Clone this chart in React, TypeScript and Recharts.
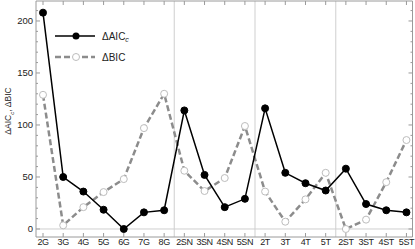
import { LineChart, Line, XAxis, YAxis, ReferenceLine } from "recharts";

const categories = [
  "2G", "3G", "4G", "5G", "6G", "7G", "8G",
  "2SN", "3SN", "4SN", "5SN",
  "2T", "3T", "4T", "5T",
  "2ST", "3ST", "4ST", "5ST",
];
const groupSizes = [7, 4, 4, 4];
const aicc = [208, 50, 36, 18.5, 0, 16, 18, 114, 52, 21, 29, 116, 54, 44, 37, 58, 24, 18, 16];
const bic = [129, 3.5, 21, 35.5, 48, 97, 130, 56, 36.5, 49, 99, 36, 7, 28.5, 54, 0, 9, 45, 85.5];
const yTicks = [0, 10, 20, 30, 40, 50, 60, 70, 80, 90, 100, 110, 120, 130, 140, 150, 160, 170, 180, 190, 200, 210];

const data = categories.map((c, i) => ({ idx: i, name: c, aicc: aicc[i], bic: bic[i] }));

// dividers sit halfway between the last point of a group and the first of the next
const breaks: number[] = [];
groupSizes.slice(0, -1).reduce((acc, n) => {
  breaks.push(acc + n - 0.5);
  return acc + n;
}, 0);

const FRAME = "#9a9a9a";
const FONT = "Liberation Sans, Arial, sans-serif";

function LeftTick({ x, y, payload }: any) {
  const major = payload.value % 50 === 0;
  return (
    <g>
      <line x1={x + 3} x2={x + 3 + (major ? 4 : 2)} y1={y} y2={y} stroke={FRAME} />
      {major && (
        <text x={x} y={y} textAnchor="end" dominantBaseline="central" fontSize={9.5} fill="#222" fontFamily={FONT}>
          {payload.value}
        </text>
      )}
    </g>
  );
}

function RightTick({ x, y, payload }: any) {
  const major = payload.value % 50 === 0;
  return <line x1={x} x2={x - (major ? 4 : 2)} y1={y} y2={y} stroke={FRAME} />;
}

function BottomTick({ x, y, payload }: any) {
  return (
    <g>
      <line x1={x} x2={x} y1={y - 1} y2={y - 5} stroke={FRAME} />
      <text
        x={x}
        y={y + 4}
        textAnchor="middle"
        dominantBaseline="central"
        fontSize={9}
        letterSpacing={-0.4}
        fill="#222"
        fontFamily={FONT}
      >
        {categories[payload.value]}
      </text>
    </g>
  );
}

function TopTick({ x, y }: any) {
  return <line x1={x} x2={x} y1={y} y2={y + 4} stroke={FRAME} />;
}

export default function App() {
  return (
    <div style={{ position: "relative", width: 415, height: 249, background: "#fff" }}>
      <style>{"body{margin:0}"}</style>
      <LineChart width={415} height={249} data={data} margin={{ top: 0, right: 0, bottom: 0, left: 0 }}>
        <XAxis
          xAxisId="bottom"
          dataKey="idx"
          type="number"
          domain={[-0.347, 18.3]}
          allowDataOverflow
          ticks={categories.map((_, i) => i)}
          interval={0}
          height={12}
          tickSize={0}
          tickMargin={1}
          tickLine={false}
          axisLine={{ stroke: FRAME }}
          tick={<BottomTick />}
        />
        <XAxis
          xAxisId="top"
          orientation="top"
          dataKey="idx"
          type="number"
          domain={[-0.347, 18.3]}
          allowDataOverflow
          ticks={categories.map((_, i) => i)}
          interval={0}
          height={1}
          tickSize={0}
          tickMargin={0}
          tickLine={false}
          axisLine={{ stroke: FRAME }}
          tick={<TopTick />}
        />
        <YAxis
          yAxisId="left"
          domain={[-7.7, 219.2]}
          allowDataOverflow
          ticks={yTicks}
          interval={0}
          width={36}
          tickSize={0}
          tickMargin={3}
          tickLine={false}
          axisLine={{ stroke: FRAME }}
          tick={<LeftTick />}
        />
        <YAxis
          yAxisId="right"
          orientation="right"
          domain={[-7.7, 219.2]}
          allowDataOverflow
          ticks={yTicks}
          interval={0}
          width={2.5}
          tickSize={0}
          tickMargin={0}
          tickLine={false}
          axisLine={{ stroke: FRAME }}
          tick={<RightTick />}
        />
        <ReferenceLine xAxisId="bottom" yAxisId="left" y={0} stroke="#cfcfcf" />
        {breaks.map((b) => (
          <ReferenceLine key={b} xAxisId="bottom" yAxisId="left" x={b} stroke="#cfcfcf" />
        ))}
        <Line
          xAxisId="bottom"
          yAxisId="left"
          dataKey="bic"
          stroke="#8c8c8c"
          strokeWidth={2.5}
          strokeDasharray="6 3"
          dot={{ r: 3.5, fill: "#fff", stroke: "#bdbdbd", strokeWidth: 1, strokeDasharray: "" }}
          isAnimationActive={false}
        />
        <Line
          xAxisId="bottom"
          yAxisId="left"
          dataKey="aicc"
          stroke="#000"
          strokeWidth={1.5}
          dot={{ r: 3.5, fill: "#000", stroke: "#000", strokeWidth: 1 }}
          isAnimationActive={false}
        />
      </LineChart>

      {/* axis title */}
      <div
        style={{
          position: "absolute",
          left: 8,
          top: 111,
          transform: "translate(-50%, -50%) rotate(-90deg)",
          whiteSpace: "nowrap",
          fontFamily: FONT,
          fontSize: 8.5,
          lineHeight: "10px",
          color: "#222",
        }}
      >
        ΔAIC<sub style={{ fontStyle: "italic", fontSize: 6, lineHeight: 0 }}>c</sub>, ΔBIC
      </div>

      {/* legend */}
      <svg style={{ position: "absolute", left: 0, top: 0 }} width={415} height={249} pointerEvents="none">
        <line x1={55} x2={95} y1={36} y2={36} stroke="#000" strokeWidth={1.5} />
        <circle cx={76} cy={36} r={3.5} fill="#000" />
        <text x={102} y={36} dominantBaseline="central" fontSize={10} fill="#222" fontFamily={FONT}>
          ΔAIC<tspan fontStyle="italic" fontSize={7} dy={2.5}>c</tspan>
        </text>
        <line x1={55} x2={95} y1={57} y2={57} stroke="#8c8c8c" strokeWidth={2.5} strokeDasharray="6 3" />
        <circle cx={76} cy={57} r={3.5} fill="#fff" stroke="#bdbdbd" />
        <text x={102} y={57} dominantBaseline="central" fontSize={10} fill="#222" fontFamily={FONT}>
          ΔBIC
        </text>
      </svg>
    </div>
  );
}
